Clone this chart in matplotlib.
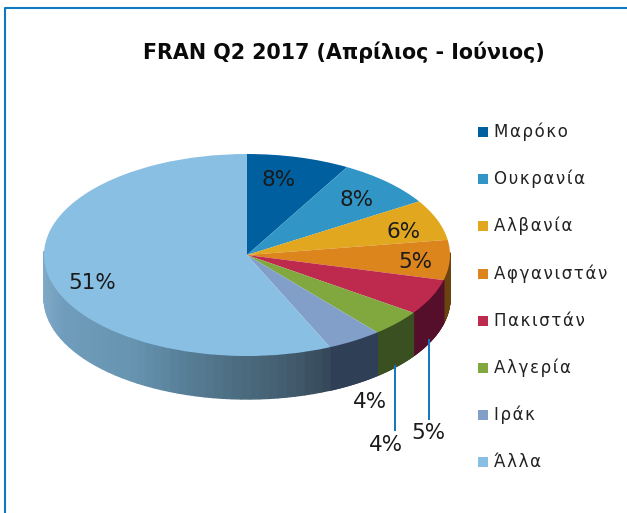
import numpy as np
import matplotlib
matplotlib.use("Agg")
import matplotlib.pyplot as plt
from matplotlib.colors import to_rgb
from matplotlib.patches import Polygon, Rectangle

categories = ["Μαρόκο", "Ουκρανία", "Αλβανία", "Αφγανιστάν", "Πακιστάν", "Αλγερία", "Ιράκ", "Άλλα"]
labels = ["8%", "8%", "6%", "5%", "5%", "4%", "4%", "51%"]
# Visible slice shares
shares = [8.2, 7.9, 6.5, 6.4, 5.7, 4.2, 4.4, 56.7]
colors = ["#00609f", "#3196c6", "#e1a71f", "#dd851d", "#bd2a4e", "#80a83f", "#829fc9", "#89bfe3"]
side_colors = ["#003050", "#184a63", "#5a4210", "#6b4310", "#560f2a", "#3a5020", "#2f3f55", None]
title = "FRAN Q2 2017 (Απρίλιος - Ιούνιος)"

W, H = 627, 513
fig = plt.figure(figsize=(W / 100, H / 100), dpi=100, facecolor="white")
bg = fig.add_axes([0, 0, 1, 1])
bg.set_xlim(0, W)
bg.set_ylim(H, 0)
bg.axis("off")

# Frame
bg.plot([5, 5, W + 2], [H + 2, 8, 8], color="#0f78c0", lw=1.5, solid_capstyle="butt")

bg.text(344, 52, title, ha="center", va="center", fontsize=14.9, fontweight="bold",
        family="DejaVu Sans", color="#0a0a0a")

# Pie axes: the unit circle is squashed into the top ellipse
cx, cy, a, b, depth = 247, 255, 203, 101, 43
pie = fig.add_axes([(cx - a) / W, 1 - (cy + b) / H, 2 * a / W, 2 * b / H])
pie.axis("off")

edges = np.cumsum([0] + shares) / sum(shares) * 2 * np.pi
d = depth / b

rim_x = [-1.0, -0.9, -0.55, -0.3, 0.0, 0.25, 0.41]
rim_stops = np.array([to_rgb(c) for c in
                      ["#7fa9c6", "#6f9dbb", "#6794b0", "#587f98", "#4b6b7e", "#415a6c", "#36495a"]])


def rim_colour(x):
    return [np.interp(x, rim_x, rim_stops[:, k]) for k in range(3)]


for i in range(len(shares)):
    ts = np.linspace(edges[i], edges[i + 1], 80)
    for t0, t1 in zip(ts[:-1], ts[1:]):
        cos0, cos1 = np.cos(t0), np.cos(t1)
        if cos0 > 0.02 and cos1 > 0.02:
            continue
        x0, x1 = np.sin(t0), np.sin(t1)
        col = side_colors[i] if side_colors[i] else rim_colour(x0)
        pie.add_patch(Polygon([(x0, cos0), (x1, cos1), (x1, cos1 - d), (x0, cos0 - d)],
                              closed=True, facecolor=col, edgecolor=col, lw=1.0,
                              zorder=1, clip_on=False))

wedges, _ = pie.pie(shares, colors=colors, startangle=90, counterclock=False, radius=1,
                    wedgeprops=dict(linewidth=0, zorder=3))
for w in wedges:
    w.set_clip_on(False)
pie.set_aspect("auto")
pie.set_xlim(-1, 1)
pie.set_ylim(-1, 1)

# Data labels, with leader lines for the two outside ones
label_xy = [(279, 180), (357, 200), (404, 232), (415, 262), (428, 433), (386, 445), (370, 402), (92, 283)]
for lab, (x, y) in zip(labels, label_xy):
    bg.text(x, y, lab, ha="center", va="center", fontsize=15.5, family="DejaVu Sans",
            color="#1a1a1a", zorder=5)
bg.plot([428.5, 428.5], [339, 420], color="#0f78c0", lw=1.4, solid_capstyle="butt", zorder=5)
bg.plot([395, 395], [365, 431], color="#0f78c0", lw=1.4, solid_capstyle="butt", zorder=5)
bg.set_zorder(2)
bg.patch.set_alpha(0)

# Legend
legend_y = [132, 179, 226, 274, 321, 368, 415, 462]
for name, col, y in zip(categories, colors, legend_y):
    bg.add_patch(Rectangle((478, y - 5), 10, 10, facecolor=col, edgecolor="none"))
    bg.text(494, y, "\u200a".join(name), ha="left", va="center", fontsize=12, family="DejaVu Sans",
            color="#222222")

fig.savefig("out.png", dpi=100)
